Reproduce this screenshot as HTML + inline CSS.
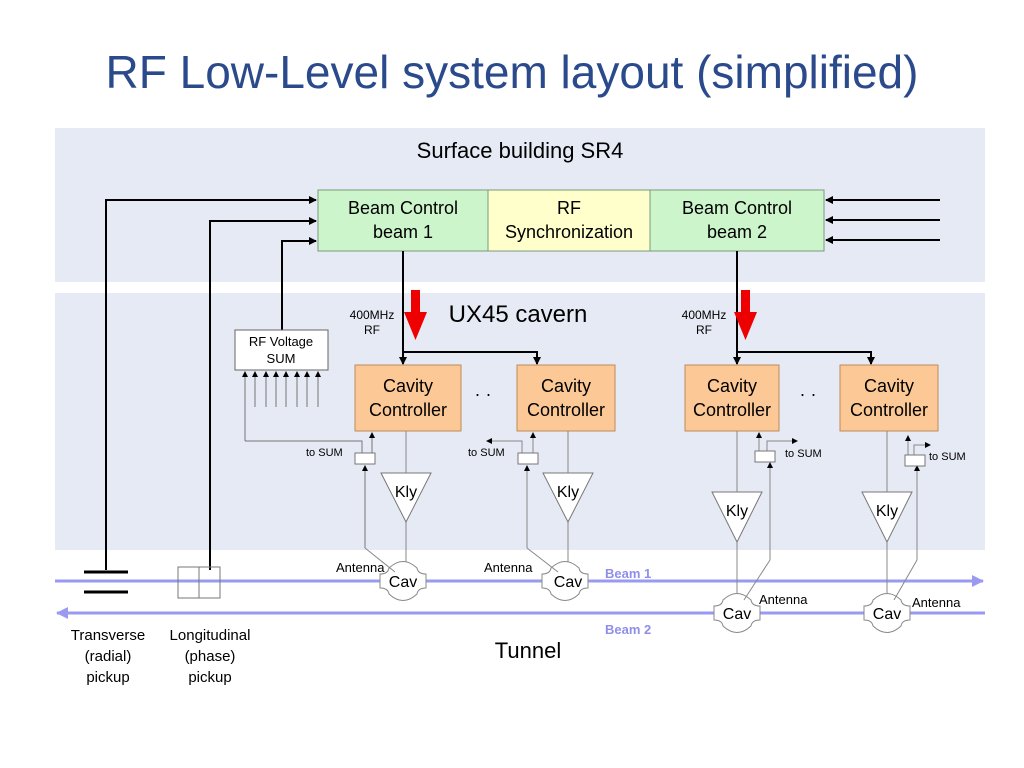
<!DOCTYPE html>
<html><head><meta charset="utf-8"><style>
body{margin:0;width:1024px;height:768px;background:#fff;overflow:hidden}
svg{display:block;font-family:"Liberation Sans",sans-serif}
</style></head><body>
<svg width="1024" height="768" viewBox="0 0 1024 768">
<defs>
<marker id="a" markerWidth="8" markerHeight="8" refX="7" refY="4" orient="auto" markerUnits="userSpaceOnUse"><path d="M0,0 L8,4 L0,8 Z" fill="#000"/></marker>
<marker id="as" markerWidth="6" markerHeight="8" refX="5" refY="4" orient="auto" markerUnits="userSpaceOnUse"><path d="M0,1 L6,4 L0,7 Z" fill="#000"/></marker>
<marker id="ab" markerWidth="12" markerHeight="12" refX="11" refY="6" orient="auto" markerUnits="userSpaceOnUse"><path d="M0,0 L12,6 L0,12 Z" fill="#9a9af0"/></marker>
</defs>
<text x="512" y="88" text-anchor="middle" font-size="46" fill="#2a4a8c" font-family="Liberation Sans, sans-serif">RF Low-Level system layout (simplified)</text>
<rect x="55" y="128" width="930" height="154" fill="#e6eaf4"/>
<rect x="55" y="293" width="930" height="257" fill="#e6eaf4"/>
<text x="520" y="158" text-anchor="middle" font-size="22">Surface building SR4</text>
<text x="518" y="322" text-anchor="middle" font-size="24">UX45 cavern</text>
<text x="528" y="658" text-anchor="middle" font-size="22">Tunnel</text>
<rect x="318" y="190" width="170" height="61" fill="#ccf5cc" stroke="#7a9a7a"/>
<rect x="488" y="190" width="162" height="61" fill="#ffffcc" stroke="#7a9a7a"/>
<rect x="650" y="190" width="174" height="61" fill="#ccf5cc" stroke="#7a9a7a"/>
<g font-size="18" text-anchor="middle">
<text x="403" y="214">Beam Control</text><text x="403" y="238">beam 1</text>
<text x="569" y="214">RF</text><text x="569" y="238">Synchronization</text>
<text x="737" y="214">Beam Control</text><text x="737" y="238">beam 2</text>
</g>
<g stroke="#000" stroke-width="2" fill="none">
<path d="M106,570 V200 H316" marker-end="url(#a)"/>
<path d="M210,570 V221 H316" marker-end="url(#a)"/>
<path d="M282,330 V241 H316" marker-end="url(#a)"/>
<path d="M940,200 H826" marker-end="url(#a)"/>
<path d="M940,220 H826" marker-end="url(#a)"/>
<path d="M940,240 H826" marker-end="url(#a)"/>
<path d="M403,251 V364" marker-end="url(#a)"/>
<path d="M403,352 H537 V364" marker-end="url(#a)"/>
<path d="M737,251 V364" marker-end="url(#a)"/>
<path d="M737,352 H871 V364" marker-end="url(#a)"/>
</g>
<path d="M411,290 h9 v22 h7 l-11.5,28 l-11.5,-28 h7 z" fill="#ee0000"/>
<path d="M741,290 h9 v22 h7 l-11.5,28 l-11.5,-28 h7 z" fill="#ee0000"/>
<g font-size="12" text-anchor="middle">
<text x="372" y="319">400MHz</text><text x="372" y="334">RF</text>
<text x="704" y="319">400MHz</text><text x="704" y="334">RF</text>
</g>
<rect x="235" y="330" width="93" height="40" fill="#fff" stroke="#666"/>
<text x="281" y="346" text-anchor="middle" font-size="13">RF Voltage</text>
<text x="281" y="363" text-anchor="middle" font-size="13">SUM</text>
<g stroke="#777" stroke-width="1" fill="none">
<path d="M245,441 V372" marker-end="url(#as)"/>
<path d="M255,407 V372" marker-end="url(#as)"/>
<path d="M266,407 V372" marker-end="url(#as)"/>
<path d="M276,407 V372" marker-end="url(#as)"/>
<path d="M286,407 V372" marker-end="url(#as)"/>
<path d="M297,407 V372" marker-end="url(#as)"/>
<path d="M307,407 V372" marker-end="url(#as)"/>
<path d="M318,407 V372" marker-end="url(#as)"/>
<path d="M245,441 H362 V453"/>
</g>
<g fill="#fcc896" stroke="#c08a5a">
<rect x="355" y="365" width="106" height="66"/>
<rect x="517" y="365" width="98" height="66"/>
<rect x="685" y="365" width="94" height="66"/>
<rect x="840" y="365" width="98" height="66"/>
</g>
<g font-size="18" text-anchor="middle">
<text x="408" y="392">Cavity</text><text x="408" y="416">Controller</text>
<text x="566" y="392">Cavity</text><text x="566" y="416">Controller</text>
<text x="732" y="392">Cavity</text><text x="732" y="416">Controller</text>
<text x="889" y="392">Cavity</text><text x="889" y="416">Controller</text>
</g>
<text x="483" y="400" font-size="18" text-anchor="middle">· ·</text>
<text x="808" y="400" font-size="18" text-anchor="middle">· ·</text>
<line x1="55" y1="581" x2="983" y2="581" stroke="#9a9af0" stroke-width="3" marker-end="url(#ab)"/>
<line x1="985" y1="613" x2="57" y2="613" stroke="#9a9af0" stroke-width="3" marker-end="url(#ab)"/>
<text x="605" y="578" font-size="13" font-weight="bold" fill="#8f8fea">Beam 1</text>
<text x="605" y="634" font-size="13" font-weight="bold" fill="#8f8fea">Beam 2</text>
<g stroke="#000" stroke-width="3"><line x1="84" y1="572" x2="128" y2="572"/><line x1="84" y1="592" x2="128" y2="592"/></g>
<rect x="178" y="567" width="42" height="31" fill="none" stroke="#777"/>
<line x1="199" y1="567" x2="199" y2="598" stroke="#777"/>
<g font-size="15" text-anchor="middle">
<text x="108" y="640">Transverse</text><text x="108" y="661">(radial)</text><text x="108" y="682">pickup</text>
<text x="210" y="640">Longitudinal</text><text x="210" y="661">(phase)</text><text x="210" y="682">pickup</text>
</g>
<g stroke="#888" stroke-width="1" fill="none">
<line x1="406" y1="431" x2="406" y2="473"/>
<line x1="406" y1="522" x2="406" y2="562"/>
<path d="M365,548 V466" stroke="#777" marker-end="url(#as)"/>
<path d="M372,453 V433" stroke="#777" marker-end="url(#as)"/>
<line x1="568" y1="431" x2="568" y2="473"/>
<line x1="568" y1="522" x2="568" y2="562"/>
<path d="M527,548 V466" marker-end="url(#as)"/>
<path d="M533,453 V433" marker-end="url(#as)"/>
<path d="M522,453 V441 H487" marker-end="url(#as)"/>
<line x1="737" y1="431" x2="737" y2="492"/>
<line x1="737" y1="542" x2="737" y2="596"/>
<path d="M770,560 V463" marker-end="url(#as)"/>
<path d="M759,453 V433" marker-end="url(#as)"/>
<path d="M767,453 V441 H797" marker-end="url(#as)"/>
<line x1="887" y1="431" x2="887" y2="492"/>
<line x1="887" y1="542" x2="887" y2="596"/>
<path d="M917,560 V466" marker-end="url(#as)"/>
<path d="M908,456 V436" marker-end="url(#as)"/>
<path d="M914,456 V445 H930" marker-end="url(#as)"/>
</g>
<g fill="#fff" stroke="#777">
<rect x="355" y="453" width="20" height="11"/>
<rect x="518" y="453" width="20" height="11"/>
<rect x="755" y="451" width="20" height="11"/>
<rect x="905" y="455" width="20" height="11"/>
<path d="M381,473 H431 L406,522 Z"/>
<path d="M543,473 H593 L568,522 Z"/>
<path d="M712,492 H762 L737,542 Z"/>
<path d="M862,492 H912 L887,542 Z"/>
</g>
<g font-size="11">
<text x="306" y="456">to SUM</text><text x="468" y="456">to SUM</text>
<text x="785" y="457">to SUM</text><text x="929" y="460">to SUM</text>
</g>
<g font-size="16" text-anchor="middle">
<text x="406" y="497">Kly</text><text x="568" y="497">Kly</text>
<text x="737" y="516">Kly</text><text x="887" y="516">Kly</text>
</g>
<g fill="#fff" stroke="#888">
<path d="M-14,-13 Q0,-26 14,-13 Q15,-7 23,-7 V7 Q15,7 14,13 Q0,26 -14,13 Q-15,7 -23,7 V-7 Q-15,-7 -14,-13 Z" transform="translate(403,581)"/>
<path d="M-14,-13 Q0,-26 14,-13 Q15,-7 23,-7 V7 Q15,7 14,13 Q0,26 -14,13 Q-15,7 -23,7 V-7 Q-15,-7 -14,-13 Z" transform="translate(565,581)"/>
<path d="M-14,-13 Q0,-26 14,-13 Q15,-7 23,-7 V7 Q15,7 14,13 Q0,26 -14,13 Q-15,7 -23,7 V-7 Q-15,-7 -14,-13 Z" transform="translate(737,613)"/>
<path d="M-14,-13 Q0,-26 14,-13 Q15,-7 23,-7 V7 Q15,7 14,13 Q0,26 -14,13 Q-15,7 -23,7 V-7 Q-15,-7 -14,-13 Z" transform="translate(887,613)"/>
</g>
<g stroke="#888" fill="none">
<path d="M365,548 L395,572"/><path d="M527,548 L558,572"/><path d="M770,560 L744,600"/><path d="M917,560 L894,600"/>
</g>
<g font-size="16" text-anchor="middle">
<text x="403" y="587">Cav</text><text x="568" y="587">Cav</text>
<text x="737" y="619">Cav</text><text x="887" y="619">Cav</text>
</g>
<g font-size="13">
<text x="336" y="572">Antenna</text><text x="484" y="572">Antenna</text>
<text x="759" y="604">Antenna</text><text x="912" y="607">Antenna</text>
</g>
</svg>
</body></html>
